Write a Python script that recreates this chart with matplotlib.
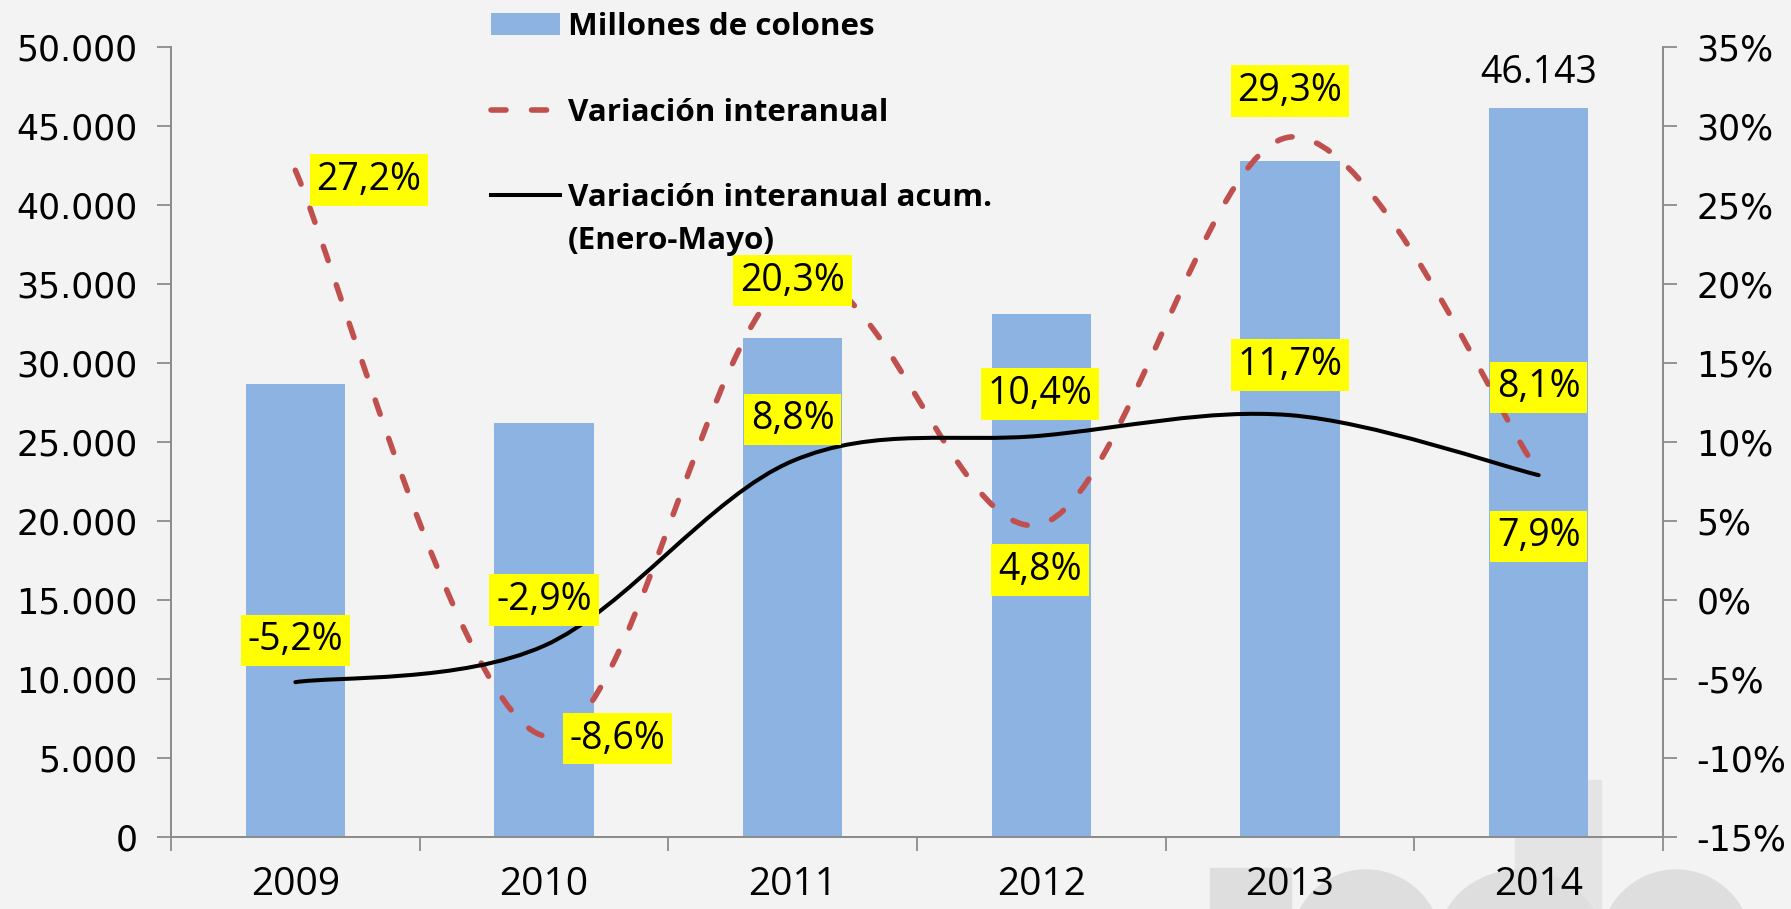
import numpy as np
import matplotlib
matplotlib.use('Agg')
import matplotlib.pyplot as plt
from matplotlib.path import Path
from matplotlib.patches import PathPatch, Rectangle, Ellipse, Patch
from matplotlib.lines import Line2D
from matplotlib.ticker import FuncFormatter, FixedLocator

# ---------------- data ----------------
years = ['2009', '2010', '2011', '2012', '2013', '2014']
millones = [28700, 26200, 31600, 33100, 42800, 46143]
var_interanual = [27.2, -8.6, 20.3, 4.8, 29.3, 8.1]
var_acum = [-5.2, -2.9, 8.8, 10.4, 11.7, 7.9]
left_ticks = [0, 5000, 10000, 15000, 20000, 25000, 30000, 35000, 40000, 45000, 50000]
right_ticks = [-15, -10, -5, 0, 5, 10, 15, 20, 25, 30, 35]
legend_labels = ['Millones de colones', 'Variación interanual', 'Variación interanual acum.']
legend_extra = '(Enero-Mayo)'

# label offsets (points)
off_interanual = [(53, -7), (53, -2), (0, -1), (-1, -33), (0, 33), (0, 61)]
off_acum = [(0, 30), (0, 33), (0, 30), (-1, 30), (0, 36), (0, -44)]

BAR_C = '#8DB3E2'
RED_C = '#C0504D'
AX_C = '#8C8C8C'
LBL_FONT = 'Open Sans'
TICK_FONT = 'DejaVu Sans'

W, H = 1791, 909
fig = plt.figure(figsize=(W / 100, H / 100), dpi=100, facecolor='#F3F3F3')

# faint watermark shapes (decoration, behind everything)
def fx(px): return px / W
def fy(py): return 1 - py / H
wm = '#DEDEDE'
fig.patches.append(Rectangle((fx(1515), fy(909)), fx(1601) - fx(1515), fy(780) - fy(909),
                             transform=fig.transFigure, color='#E4E4E4', zorder=-2))
fig.patches.append(Rectangle((fx(1210), fy(909)), fx(1291) - fx(1210), fy(868) - fy(909),
                             transform=fig.transFigure, color=wm, zorder=-2))
for cx, w in [(1366, 150), (1520, 165), (1676, 150)]:
    fig.patches.append(Ellipse((fx(cx), fy(945)), fx(w), (fy(870) - fy(945)) * 2,
                               transform=fig.transFigure, color=wm, zorder=-2))

ax = fig.add_axes([171 / W, 1 - 837 / H, (1663 - 171) / W, (837 - 47) / H])
ax.patch.set_visible(False)
ax2 = ax.twinx()
ax2.patch.set_visible(False)

x = np.arange(len(years))
bars = ax.bar(x, millones, width=0.4, color=BAR_C, zorder=2)
ax.set_xlim(-0.5, len(years) - 0.5)
ax.set_ylim(left_ticks[0], left_ticks[-1])
ax2.set_ylim(right_ticks[0], right_ticks[-1])

# bar value label for last bar
ax.annotate(f"{millones[-1]:,}".replace(',', '.'), (x[-1], millones[-1]),
            xytext=(0, 25), textcoords='offset points', ha='center', va='center',
            fontsize=27, family=LBL_FONT, color='black', zorder=6)


def smooth_path(xs, ys):
    pts = np.column_stack([xs, ys]).astype(float)
    n = len(pts)
    verts = [pts[0]]
    codes = [Path.MOVETO]
    for i in range(n - 1):
        p0 = pts[i - 1] if i > 0 else pts[i]
        p1 = pts[i]
        p2 = pts[i + 1]
        p3 = pts[i + 2] if i + 2 < n else pts[i + 1]
        c1 = p1 + (p2 - p0) / 6.0
        c2 = p2 - (p3 - p1) / 6.0
        verts += [c1, c2, p2]
        codes += [Path.CURVE4] * 3
    return Path(verts, codes)


dash_style = (0, (2.7, 4.6))
ax2.add_patch(PathPatch(smooth_path(x, var_interanual), fill=False, edgecolor=RED_C,
                        linewidth=4, linestyle=dash_style, capstyle='round', zorder=3))
ax2.add_patch(PathPatch(smooth_path(x, var_acum), fill=False, edgecolor='black',
                        linewidth=2.9, zorder=4, capstyle='round', joinstyle='round'))


def pct(v):
    return f"{v:.1f}%".replace('.', ',')


for xi, v, (dx, dy) in zip(x, var_interanual, off_interanual):
    ax2.annotate(pct(v), (xi, v), xytext=(dx, dy), textcoords='offset points',
                 ha='center', va='center', fontsize=27, family=LBL_FONT, zorder=7,
                 bbox=dict(boxstyle='square,pad=0.18', fc='#FFFF00', ec='none'))
for xi, v, (dx, dy) in zip(x, var_acum, off_acum):
    ax2.annotate(pct(v), (xi, v), xytext=(dx, dy), textcoords='offset points',
                 ha='center', va='center', fontsize=27, family=LBL_FONT, zorder=7,
                 bbox=dict(boxstyle='square,pad=0.18', fc='#FFFF00', ec='none'))

# axes styling
for a in (ax, ax2):
    for s in a.spines.values():
        s.set_color(AX_C)
        s.set_linewidth(1.3)
    a.spines['top'].set_visible(False)

ax.yaxis.set_major_locator(FixedLocator(left_ticks))
ax.yaxis.set_major_formatter(FuncFormatter(lambda v, p: f"{int(v):,}".replace(',', '.')))
ax2.yaxis.set_major_locator(FixedLocator(right_ticks))
ax2.yaxis.set_major_formatter(FuncFormatter(lambda v, p: f"{int(v)}%"))
ax.tick_params(axis='y', direction='out', length=10, width=1.3, color=AX_C, pad=14,
               labelsize=25, labelcolor='black')
ax2.tick_params(axis='y', direction='out', length=10, width=1.3, color=AX_C, pad=14,
                labelsize=25, labelcolor='black')
for lab in ax.get_yticklabels() + ax2.get_yticklabels():
    lab.set_family(TICK_FONT)

ax.set_xticks(x)
ax.set_xticklabels(years, fontsize=28, family=LBL_FONT)
ax.set_xticks(np.arange(-0.5, len(years), 1.0), minor=True)
ax.tick_params(axis='x', which='major', length=0, pad=21)
ax.tick_params(axis='x', which='minor', length=10, width=1.3, color=AX_C, direction='out')

# legend
handles = [Patch(facecolor=BAR_C, edgecolor='none'),
           Line2D([], [], color=RED_C, lw=4, linestyle=dash_style, dash_capstyle='round'),
           Line2D([], [], color='black', lw=2.9)]
leg = ax2.legend(handles, legend_labels, loc='upper left',
                 bbox_to_anchor=(491 / W, 1 - 12 / H), bbox_transform=fig.transFigure,
                 frameon=False, borderpad=0, borderaxespad=0, handlelength=2.2,
                 handleheight=0.7, handletextpad=0.25, labelspacing=1.77,
                 prop={'family': LBL_FONT, 'weight': 'bold', 'size': 22.6})
leg.set_zorder(10)

fig.canvas.draw()
last_text = leg.get_texts()[-1]
bb = last_text.get_window_extent()
fig.text(bb.x0 / W, (bb.y0 - 13) / H, legend_extra, ha='left', va='top', fontsize=22.6,
         family=LBL_FONT, weight='bold', zorder=10)

fig.savefig('out.png', dpi=100, facecolor=fig.get_facecolor())
